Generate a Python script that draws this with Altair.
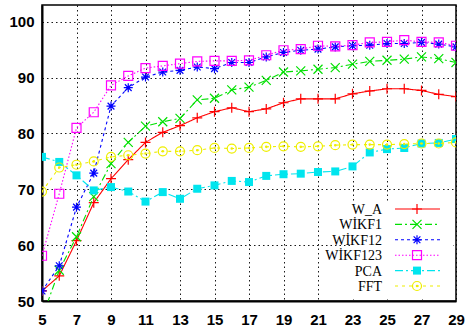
import altair as alt
import pandas as pd

x_vals = list(range(5, 30))

w_a = [51.8, 54.5, 60.8, 67.6, 71.9, 75.3, 78.4, 80.2, 81.4, 82.8, 83.9, 84.6, 83.9, 84.4,
       85.5, 86.2, 86.2, 86.2, 87.1, 87.6, 88.0, 88.0, 87.7, 87.0, 86.6]
wikf1 = [47.0, 55.5, 61.5, 68.7, 74.6, 78.4, 81.3, 82.1, 82.7, 86.0, 86.3, 87.8, 88.3, 89.5,
         91.0, 91.2, 91.5, 91.8, 92.4, 92.9, 93.1, 93.3, 93.7, 93.4, 92.7]
wikf12 = [51.8, 56.3, 66.8, 72.9, 84.9, 88.2, 90.1, 91.0, 91.3, 91.9, 91.6, 92.7, 92.7, 93.7,
          94.5, 94.9, 95.1, 95.5, 95.7, 95.8, 96.1, 96.1, 96.3, 96.0, 95.5]
wikf123 = [58.1, 69.2, 81.0, 83.8, 88.6, 90.3, 91.7, 92.1, 92.5, 92.9, 93.0, 93.0, 93.1, 94.0,
           94.9, 95.1, 95.7, 95.6, 95.8, 96.3, 96.4, 96.7, 96.4, 96.3, 95.7]
pca = [75.8, 74.9, 72.5, 69.8, 70.4, 69.6, 67.8, 69.5, 68.3, 70.1, 70.7, 71.5, 71.3, 72.4,
       72.7, 72.8, 73.1, 73.2, 74.1, 76.6, 77.2, 77.4, 78.2, 78.3, 79.0]
fft = [69.6, 73.9, 74.4, 75.0, 75.8, 76.1, 76.4, 76.8, 76.8, 77.0, 77.4, 77.3, 77.4, 77.6,
       77.7, 77.6, 77.7, 77.9, 78.0, 78.0, 78.0, 78.1, 78.2, 78.2, 78.4]

series_names = ["W_A", "WİKF1", "WİKF12", "WİKF123", "PCA", "FFT"]
series_values = [w_a, wikf1, wikf12, wikf123, pca, fft]

x_ticks = list(range(5, 30, 2))
y_ticks = [50, 60, 70, 80, 90, 100]

colors = ["#ff0000", "#00e000", "#0000ff", "#ff00ff", "#00e5ee", "#eeee00"]
dashes = [[1, 0], [7, 3, 2, 3], [3, 3], [1.5, 2], [8, 3, 2, 3], [3, 4]]
plus = "M-1,0L1,0M0,-1L0,1"
cross = "M-1,-1L1,1M-1,1L1,-1"
star = "M-1,0L1,0M0,-1L0,1M-0.75,-0.75L0.75,0.75M-0.75,0.75L0.75,-0.75"
circ = ("M1,0A1,1,0,1,1,-1,0A1,1,0,1,1,1,0Z"
        "M0.15,0A0.15,0.15,0,1,1,-0.15,0A0.15,0.15,0,1,1,0.15,0Z")
shapes = [plus, cross, star, "square", "square", circ]
sizes = [100, 81, 81, 81, 64, 81]
filled = [False, False, False, False, True, False]

W, H = 414, 296
xs = alt.Scale(domain=[5, 29], nice=False, zero=False)
ys = alt.Scale(domain=[50, 103], nice=False, zero=False)

common_axis = dict(title=None, grid=True, gridColor="#000", gridDash=[1.5, 3],
                   gridOpacity=0.9, ticks=False, labelFontSize=15, labelFontWeight="bold",
                   labelFont="Liberation Sans", labelColor="#000", domainColor="#000",
                   domainWidth=2)
x_axis = alt.Axis(values=x_ticks, labelPadding=11, labelFlush=False, **common_axis)
y_axis = alt.Axis(values=y_ticks, labelPadding=8, **common_axis)


def xenc():
    return alt.X("x:Q", scale=xs, axis=x_axis)


def yenc():
    return alt.Y("y:Q", scale=ys, axis=y_axis)


layers = []
for i, (name, vals) in enumerate(zip(series_names, series_values)):
    df = pd.DataFrame({"x": x_vals, "y": vals, "series": name})
    line = alt.Chart(df).mark_line(color=colors[i], strokeWidth=1.1,
                                   strokeDash=dashes[i], clip=True).encode(x=xenc(), y=yenc())
    if filled[i]:
        pt = alt.Chart(df).mark_point(shape=shapes[i], size=sizes[i], filled=True,
                                      color=colors[i], opacity=1, clip=True)
    else:
        pt = alt.Chart(df).mark_point(shape=shapes[i], size=sizes[i], filled=False,
                                      color=colors[i], strokeWidth=1.2, opacity=1, clip=True)
    layers += [line, pt.encode(x=xenc(), y=yenc())]

# legend
leg_df = pd.DataFrame({"series": series_names})
bg = alt.Chart(leg_df.head(1)).mark_rect(color="white").encode(
    x=alt.value(310), x2=alt.value(411), y=alt.value(198), y2=alt.value(294))
leg_layers = [bg]
y0, step = 204, 15.4
for i, name in enumerate(series_names):
    yy = y0 + step * i
    base = alt.Chart(leg_df).transform_filter(alt.datum.series == name)
    txt = base.mark_text(align="right", baseline="middle", font="Liberation Serif",
                         fontSize=14, color="#000").encode(
        x=alt.value(340), y=alt.value(yy + 1), text="series:N")
    rule = base.mark_rule(color=colors[i], strokeWidth=1.1, strokeDash=dashes[i]).encode(
        x=alt.value(353), x2=alt.value(398), y=alt.value(yy))
    if filled[i]:
        mk = base.mark_point(shape=shapes[i], size=sizes[i], filled=True,
                             color=colors[i], opacity=1)
    else:
        mk = base.mark_point(shape=shapes[i], size=sizes[i], filled=False,
                             color=colors[i], strokeWidth=1.2, opacity=1)
    leg_layers += [txt, rule, mk.encode(x=alt.value(375), y=alt.value(yy))]

chart = alt.layer(*layers, *leg_layers).properties(
    width=W, height=H,
    padding={"left": 42, "top": 5, "right": 9, "bottom": 30},
    autosize=alt.AutoSizeParams(type="none"),
    background="white",
).configure_view(stroke="#000", strokeWidth=1.5)

chart.save("out.html", embed_options={"renderer": "svg", "actions": False})
